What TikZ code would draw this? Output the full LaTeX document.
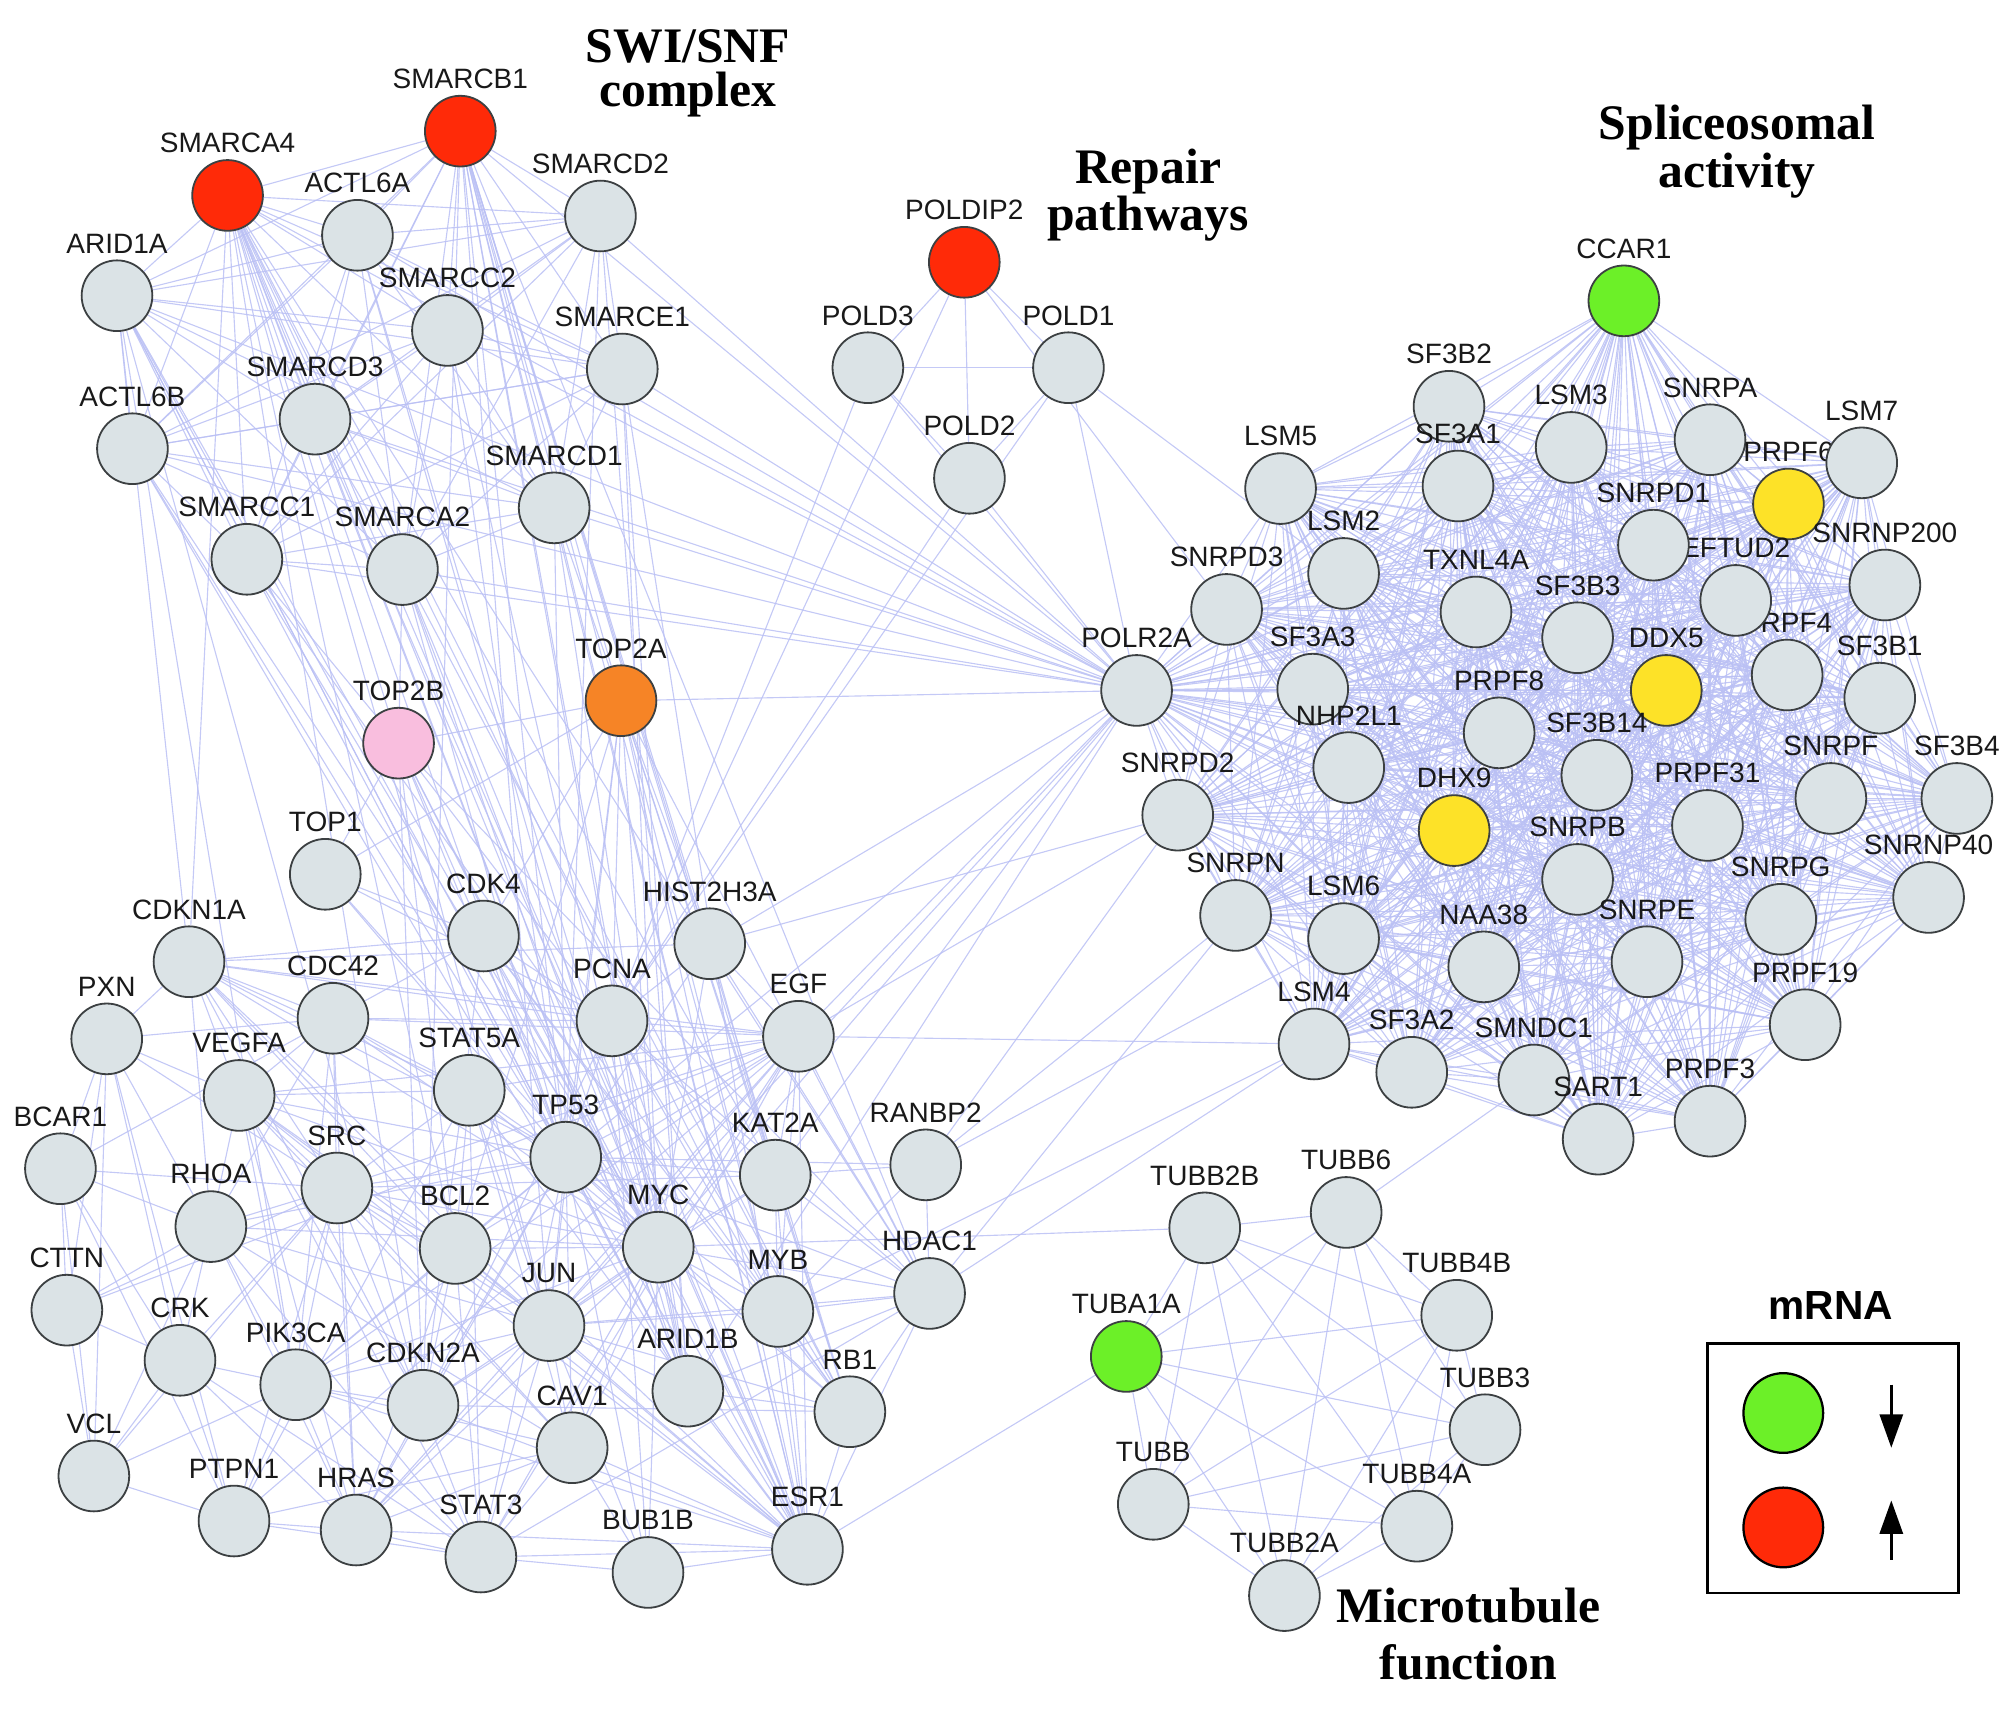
\documentclass[tikz,border=0pt]{standalone}
\usepackage{fontspec}
\setmainfont{Liberation Sans}
\newfontfamily\titleserif{Liberation Serif}
\usetikzlibrary{backgrounds,arrows.meta}

\definecolor{genegray}{RGB}{219,227,230}
\definecolor{ringgray}{RGB}{60,64,66}
\definecolor{upred}{RGB}{255,42,8}
\definecolor{downgreen}{RGB}{108,240,40}
\definecolor{yellowhit}{RGB}{253,226,40}
\definecolor{orangehit}{RGB}{246,132,38}
\definecolor{pinkhit}{RGB}{249,190,222}
\definecolor{edgeblue}{RGB}{186,192,244}
\definecolor{labelblack}{RGB}{25,25,25}

\newcommand\genefont{\fontsize{12.4}{14}\selectfont}
% gene groups
\newcommand\swisnfgenes{SMARCB1,SMARCA4,ACTL6A,SMARCD2,ARID1A,SMARCC2,SMARCE1,SMARCD3,ACTL6B,SMARCD1,SMARCC1,SMARCA2,ARID1B}
\newcommand\poldgenes{POLDIP2,POLD1,POLD2,POLD3,PCNA}
\newcommand\splicegenes{CCAR1,SF3B2,SF3A1,LSM3,SNRPA,PRPF6,LSM7,LSM5,PRPF4,EFTUD2,SNRPD1,SNRNP200,LSM2,TXNL4A,SNRPD3,SF3B3,SF3B1,DDX5,SF3A3,NHP2L1,PRPF8,SF3B14,SNRPF,SF3B4,SNRPD2,DHX9,PRPF31,SNRPB,SNRPN,LSM6,SNRPG,SNRNP40,NAA38,SNRPE,PRPF19,LSM4,SF3A2,SMNDC1,SART1,PRPF3}
\newcommand\tubgenes{TUBB2B,TUBB6,TUBB4B,TUBA1A,TUBB3,TUBB,TUBB4A,TUBB2A}

\begin{document}
\begin{tikzpicture}[x=0.02cm, y=-0.02cm,
    lbl/.style={font=\genefont, text=labelblack, inner sep=2.5pt},
    gene/.style={circle, draw=ringgray, line width=0.8pt, fill=genegray, minimum size=1.1cm, inner sep=0pt, label={[lbl]above:#1}},
    ppi/.style={draw=edgeblue, line width=0.5pt, draw opacity=0.85},
    legdot/.style={circle, draw=black, line width=1pt, minimum size=1.24cm, inner sep=0pt},
    legarrow/.style={line width=1.2pt, -{Triangle[length=0.52cm, width=0.36cm]}},
    ]
    \useasboundingbox (0,0) rectangle (1568,1332);

    % SWI/SNF complex
    \node[gene=SMARCB1, fill=upred] (SMARCB1) at (358,102) {};
    \node[gene=SMARCA4, fill=upred] (SMARCA4) at (177,152) {};
    \node[gene=ACTL6A] (ACTL6A) at (278,183) {};
    \node[gene=SMARCD2] (SMARCD2) at (467,168) {};
    \node[gene=ARID1A] (ARID1A) at (91,230) {};
    \node[gene=SMARCC2] (SMARCC2) at (348,257) {};
    \node[gene=SMARCE1] (SMARCE1) at (484,287) {};
    \node[gene=SMARCD3] (SMARCD3) at (245,326) {};
    \node[gene=ACTL6B] (ACTL6B) at (103,349) {};
    \node[gene=SMARCD1] (SMARCD1) at (431,395) {};
    \node[gene=SMARCC1] (SMARCC1) at (192,435) {};
    \node[gene=SMARCA2] (SMARCA2) at (313,443) {};
    \node[gene=TOP2B, fill=pinkhit] (TOP2B) at (310,578) {};
    \node[gene=TOP2A, fill=orangehit] (TOP2A) at (483,545) {};

    % repair pathways
    \node[gene=POLDIP2, fill=upred] (POLDIP2) at (750,204) {};
    \node[gene=POLD3] (POLD3) at (675,286) {};
    \node[gene=POLD1] (POLD1) at (831,286) {};
    \node[gene=POLD2] (POLD2) at (754,372) {};

    % spliceosomal activity
    \node[gene=CCAR1, fill=downgreen] (CCAR1) at (1263,234) {};
    \node[gene=SF3B2] (SF3B2) at (1127,316) {};
    \node[gene=SF3A1] (SF3A1) at (1134,378) {};
    \node[gene=LSM3] (LSM3) at (1222,348) {};
    \node[gene=SNRPA] (SNRPA) at (1330,342) {};
    \node[gene=PRPF6, fill=yellowhit] (PRPF6) at (1391,392) {};
    \node[gene=LSM7] (LSM7) at (1448,360) {};
    \node[gene=LSM5] (LSM5) at (996,380) {};
    \node[gene=PRPF4] (PRPF4) at (1390,525) {};
    \node[gene=EFTUD2] (EFTUD2) at (1350,467) {};
    \node[gene=SNRPD1] (SNRPD1) at (1286,424) {};
    \node[gene=SNRNP200] (SNRNP200) at (1466,455) {};
    \node[gene=LSM2] (LSM2) at (1045,446) {};
    \node[gene=TXNL4A] (TXNL4A) at (1148,476) {};
    \node[gene=SNRPD3] (SNRPD3) at (954,474) {};
    \node[gene=SF3B3] (SF3B3) at (1227,496) {};
    \node[gene=SF3B1] (SF3B1) at (1462,543) {};
    \node[gene=DDX5, fill=yellowhit] (DDX5) at (1296,537) {};
    \node[gene=SF3A3] (SF3A3) at (1021,536) {};
    \node[gene=NHP2L1] (NHP2L1) at (1049,597) {};
    \node[gene=PRPF8] (PRPF8) at (1166,570) {};
    \node[gene=SF3B14] (SF3B14) at (1242,603) {};
    \node[gene=SNRPF] (SNRPF) at (1424,621) {};
    \node[gene=SF3B4] (SF3B4) at (1522,621) {};
    \node[gene=SNRPD2] (SNRPD2) at (916,634) {};
    \node[gene=DHX9, fill=yellowhit] (DHX9) at (1131,646) {};
    \node[gene=PRPF31] (PRPF31) at (1328,642) {};
    \node[gene=SNRPB] (SNRPB) at (1227,684) {};
    \node[gene=SNRPN] (SNRPN) at (961,712) {};
    \node[gene=LSM6] (LSM6) at (1045,730) {};
    \node[gene=SNRPG] (SNRPG) at (1385,715) {};
    \node[gene=SNRNP40] (SNRNP40) at (1500,698) {};
    \node[gene=NAA38] (NAA38) at (1154,752) {};
    \node[gene=SNRPE] (SNRPE) at (1281,748) {};
    \node[gene=PRPF19] (PRPF19) at (1404,797) {};
    \node[gene=LSM4] (LSM4) at (1022,812) {};
    \node[gene=SF3A2] (SF3A2) at (1098,834) {};
    \node[gene=SMNDC1] (SMNDC1) at (1193,840) {};
    \node[gene=SART1] (SART1) at (1243,886) {};
    \node[gene=PRPF3] (PRPF3) at (1330,872) {};
    \node[gene=POLR2A] (POLR2A) at (884,537) {};

    % signalling / cell cycle genes
    \node[gene=TOP1] (TOP1) at (253,680) {};
    \node[gene=CDK4] (CDK4) at (376,728) {};
    \node[gene=HIST2H3A] (HIST2H3A) at (552,734) {};
    \node[gene=CDKN1A] (CDKN1A) at (147,748) {};
    \node[gene=CDC42] (CDC42) at (259,792) {};
    \node[gene=PCNA] (PCNA) at (476,794) {};
    \node[gene=EGF] (EGF) at (621,806) {};
    \node[gene=PXN] (PXN) at (83,808) {};
    \node[gene=VEGFA] (VEGFA) at (186,852) {};
    \node[gene=STAT5A] (STAT5A) at (365,848) {};
    \node[gene=TP53] (TP53) at (440,900) {};
    \node[gene=KAT2A] (KAT2A) at (603,914) {};
    \node[gene=RANBP2] (RANBP2) at (720,906) {};
    \node[gene=BCAR1] (BCAR1) at (47,909) {};
    \node[gene=SRC] (SRC) at (262,924) {};
    \node[gene=RHOA] (RHOA) at (164,954) {};
    \node[gene=BCL2] (BCL2) at (354,971) {};
    \node[gene=MYC] (MYC) at (512,970) {};
    \node[gene=HDAC1] (HDAC1) at (723,1006) {};
    \node[gene=CTTN] (CTTN) at (52,1019) {};
    \node[gene=CRK] (CRK) at (140,1058) {};
    \node[gene=JUN] (JUN) at (427,1031) {};
    \node[gene=MYB] (MYB) at (605,1020) {};
    \node[gene=PIK3CA] (PIK3CA) at (230,1077) {};
    \node[gene=CDKN2A] (CDKN2A) at (329,1093) {};
    \node[gene=ARID1B] (ARID1B) at (535,1082) {};
    \node[gene=RB1] (RB1) at (661,1098) {};
    \node[gene=VCL] (VCL) at (73,1148) {};
    \node[gene=CAV1] (CAV1) at (445,1126) {};
    \node[gene=PTPN1] (PTPN1) at (182,1183) {};
    \node[gene=HRAS] (HRAS) at (277,1190) {};
    \node[gene=STAT3] (STAT3) at (374,1211) {};
    \node[gene=BUB1B] (BUB1B) at (504,1223) {};
    \node[gene=ESR1] (ESR1) at (628,1205) {};

    % microtubule function
    \node[gene=TUBB2B] (TUBB2B) at (937,955) {};
    \node[gene=TUBB6] (TUBB6) at (1047,943) {};
    \node[gene=TUBB4B] (TUBB4B) at (1133,1023) {};
    \node[gene=TUBA1A, fill=downgreen] (TUBA1A) at (876,1055) {};
    \node[gene=TUBB3] (TUBB3) at (1155,1112) {};
    \node[gene=TUBB] (TUBB) at (897,1170) {};
    \node[gene=TUBB4A] (TUBB4A) at (1102,1187) {};
    \node[gene=TUBB2A] (TUBB2A) at (999,1241) {};

    % group titles
    \node[align=center, font=\titleserif\bfseries\fontsize{22}{19.6}\selectfont] (swititle) at (535,57) {SWI/SNF\\complex};
    \node[align=center, font=\titleserif\bfseries\fontsize{22}{18.9}\selectfont] (repairtitle) at (893,152) {Repair\\pathways};
    \node[align=center, font=\titleserif\bfseries\fontsize{22}{21.4}\selectfont] (splicetitle) at (1351,118) {Spliceosomal\\activity};
    \node[align=center, font=\titleserif\bfseries\fontsize{22}{25}\selectfont] (tubtitle) at (1142,1271) {Microtubule\\function};

    % legend
    \node[font=\bfseries\fontsize{18}{20}\selectfont] (mrna) at (1424,1015) {mRNA};
    \node[draw=black, line width=1.2pt, minimum width=3.9cm, minimum height=3.88cm, inner sep=0pt] (legendbox) at (1425.5,1142) {};
    \node[legdot, fill=downgreen] (legdown) at (1387,1099) {};
    \node[legdot, fill=upred] (legup) at (1387,1188) {};
    \coordinate (dnstart) at (1471,1077);
    \coordinate (dnend) at (1471,1126);
    \coordinate (upstart) at (1471,1213);
    \coordinate (upend) at (1471,1167);
    \draw[legarrow] (dnstart) -- (dnend);
    \draw[legarrow] (upstart) -- (upend);

    \begin{pgfonlayer}{background}
    % dense groups
    \foreach \a [count=\i] in \splicegenes {
        \foreach \b [count=\j] in \splicegenes {
            \ifnum\j>\i \draw[ppi] (\a) -- (\b); \fi
        }
    }
    \foreach \a [count=\i] in \swisnfgenes {
        \foreach \b [count=\j] in \swisnfgenes {
            \ifnum\j>\i \draw[ppi] (\a) -- (\b); \fi
        }
    }
    \foreach \a [count=\i] in \poldgenes {
        \foreach \b [count=\j] in \poldgenes {
            \ifnum\j>\i \draw[ppi] (\a) -- (\b); \fi
        }
    }
    \foreach \a [count=\i] in \tubgenes {
        \foreach \b [count=\j] in \tubgenes {
            \ifnum\j>\i \draw[ppi] (\a) -- (\b); \fi
        }
    }
    \foreach \b in \splicegenes \draw[ppi] (POLR2A) -- (\b);
    \foreach \b in \swisnfgenes \draw[ppi] (POLR2A) -- (\b);
    \foreach \b in {POLD1,POLD2,POLD3,TP53,MYC,HIST2H3A,TOP2A,KAT2A,EGF,JUN}
        \draw[ppi] (POLR2A) -- (\b);

    % signalling group
    \foreach \a/\b in {PXN/CDC42, PXN/BCAR1, PXN/VCL, PXN/SRC, PXN/CRK, PXN/VEGFA, PXN/RHOA, PXN/CTTN, PXN/PTPN1, PXN/CDKN1A,
        CDKN1A/CDC42, CDKN1A/TP53, CDKN1A/CDK4, CDKN1A/PCNA, CDKN1A/MYC, CDKN1A/VEGFA, CDKN1A/SRC, CDKN1A/STAT5A, CDKN1A/EGF,
        CDKN1A/CDKN2A, CDKN1A/JUN, CDKN1A/BCL2, CDKN1A/RHOA, CDKN1A/HIST2H3A,
        BCAR1/CRK, BCAR1/SRC, BCAR1/CTTN, BCAR1/VCL, BCAR1/RHOA, BCAR1/PTPN1, BCAR1/CDC42,
        CTTN/SRC, CTTN/VCL, CTTN/CRK, CTTN/RHOA, CTTN/EGF,
        VCL/SRC, VCL/CRK, VCL/RHOA, VCL/PTPN1, VCL/PIK3CA,
        CRK/SRC, CRK/RHOA, CRK/PTPN1, CRK/HRAS, CRK/PIK3CA, CRK/STAT3,
        RHOA/CDC42, RHOA/SRC, RHOA/VEGFA, RHOA/PIK3CA, RHOA/HRAS, RHOA/MYC, RHOA/TP53, RHOA/JUN, RHOA/CAV1, RHOA/STAT3,
        SRC/CDC42, SRC/VEGFA, SRC/STAT5A, SRC/STAT3, SRC/PIK3CA, SRC/HRAS, SRC/CAV1, SRC/PTPN1, SRC/EGF, SRC/ESR1,
        SRC/TP53, SRC/JUN, SRC/MYC, SRC/BCL2, SRC/KAT2A,
        VEGFA/CDC42, VEGFA/PIK3CA, VEGFA/HRAS, VEGFA/STAT3, VEGFA/JUN, VEGFA/TP53, VEGFA/EGF, VEGFA/ESR1, VEGFA/MYC,
        VEGFA/BCL2, VEGFA/CAV1, VEGFA/STAT5A, VEGFA/CDKN2A,
        CDC42/STAT5A, CDC42/EGF, CDC42/PIK3CA, CDC42/HRAS, CDC42/CDK4, CDC42/TP53, CDC42/MYC, CDC42/PCNA,
        PIK3CA/HRAS, PIK3CA/PTPN1, PIK3CA/STAT3, PIK3CA/CDKN2A, PIK3CA/JUN, PIK3CA/TP53, PIK3CA/MYC, PIK3CA/EGF,
        PIK3CA/ESR1, PIK3CA/BCL2, PIK3CA/CAV1,
        PTPN1/HRAS, PTPN1/STAT3, PTPN1/EGF, PTPN1/CAV1, PTPN1/STAT5A,
        HRAS/STAT3, HRAS/CAV1, HRAS/CDKN2A, HRAS/JUN, HRAS/TP53, HRAS/MYC, HRAS/EGF, HRAS/ESR1, HRAS/BCL2,
        STAT3/CAV1, STAT3/BUB1B, STAT3/ESR1, STAT3/JUN, STAT3/MYC, STAT3/TP53, STAT3/EGF, STAT3/BCL2, STAT3/STAT5A, STAT3/HDAC1,
        CDKN2A/TP53, CDKN2A/MYC, CDKN2A/RB1, CDKN2A/CDK4, CDKN2A/JUN, CDKN2A/BCL2, CDKN2A/ESR1, CDKN2A/PCNA,
        CAV1/ESR1, CAV1/JUN, CAV1/MYC, CAV1/TP53, CAV1/EGF, CAV1/BUB1B, CAV1/STAT5A,
        BUB1B/ESR1, BUB1B/TP53, BUB1B/MYC, BUB1B/JUN, BUB1B/PCNA,
        ESR1/RB1, ESR1/MYB, ESR1/MYC, ESR1/JUN, ESR1/TP53, ESR1/BCL2, ESR1/HDAC1, ESR1/KAT2A, ESR1/EGF, ESR1/PCNA,
        ESR1/STAT5A, ESR1/CDKN1A,
        RB1/MYB, RB1/MYC, RB1/TP53, RB1/HDAC1, RB1/CDK4, RB1/JUN, RB1/PCNA, RB1/KAT2A,
        ARID1B/MYC, ARID1B/TP53, ARID1B/HDAC1, ARID1B/JUN, ARID1B/ESR1, ARID1B/RB1,
        MYB/MYC, MYB/JUN, MYB/HDAC1, MYB/KAT2A, MYB/EGF, MYB/PCNA, MYB/TP53, MYB/CDK4, MYB/RANBP2,
        HDAC1/MYC, HDAC1/TP53, HDAC1/KAT2A, HDAC1/HIST2H3A, HDAC1/PCNA, HDAC1/JUN, HDAC1/RANBP2, HDAC1/EGF,
        RANBP2/TP53, RANBP2/KAT2A,
        KAT2A/MYC, KAT2A/TP53, KAT2A/HIST2H3A, KAT2A/PCNA, KAT2A/EGF, KAT2A/JUN,
        MYC/TP53, MYC/JUN, MYC/BCL2, MYC/EGF, MYC/PCNA, MYC/CDK4, MYC/HIST2H3A, MYC/STAT5A,
        JUN/TP53, JUN/BCL2, JUN/EGF, JUN/STAT5A, BCL2/TP53, BCL2/STAT5A, BCL2/EGF,
        TP53/STAT5A, TP53/PCNA, TP53/CDK4, TP53/EGF, TP53/HIST2H3A, STAT5A/EGF,
        PCNA/CDK4, PCNA/HIST2H3A, PCNA/EGF, EGF/HIST2H3A,
        TOP1/TP53, TOP1/MYC, TOP1/PCNA, TOP1/CDK4}
        \draw[ppi] (\a) -- (\b);

    % links between groups
    \foreach \a/\b in {TOP2A/TOP2B, TOP2A/TOP1, TOP2A/TP53, TOP2A/MYC, TOP2A/JUN, TOP2A/PCNA, TOP2A/HDAC1, TOP2A/KAT2A,
        TOP2A/RB1, TOP2A/ESR1, TOP2A/BCL2, TOP2A/MYB, TOP2A/CDK4, TOP2A/HIST2H3A,
        TOP2B/TOP1, TOP2B/TP53, TOP2B/MYC, TOP2B/JUN, TOP2B/PCNA, TOP2B/HDAC1, TOP2B/ESR1, TOP2B/CDK4, TOP2B/BCL2, TOP2B/CDKN2A,
        SMARCA4/TOP2B, SMARCA4/TP53, SMARCA4/MYC, SMARCA4/RB1, SMARCA4/CDKN2A, SMARCA4/JUN, SMARCA4/ESR1, SMARCA4/HDAC1,
        SMARCA4/MYB, SMARCA4/CDKN1A, SMARCA4/BCL2, SMARCA4/KAT2A,
        SMARCB1/TOP2A, SMARCB1/TP53, SMARCB1/MYC, SMARCB1/RB1, SMARCB1/CDKN2A, SMARCB1/JUN, SMARCB1/ESR1, SMARCB1/HDAC1,
        SMARCB1/KAT2A, SMARCB1/MYB, SMARCB1/HIST2H3A,
        ARID1A/TP53, ARID1A/MYC, ARID1A/CDKN1A, ARID1A/ESR1, ARID1A/CDKN2A, ARID1A/PIK3CA,
        ACTL6B/MYC, ACTL6B/TP53, SMARCC1/MYC, SMARCC1/RB1, SMARCC1/TOP2B, SMARCA2/TP53, SMARCA2/RB1, SMARCA2/ESR1,
        SMARCA2/TOP2B, SMARCA2/MYC, SMARCD1/ESR1, SMARCD1/TP53, SMARCD1/TOP2A, SMARCE1/ESR1, SMARCE1/MYC,
        ACTL6A/MYC, SMARCC2/TP53, SMARCD3/ESR1, SMARCD2/TP53,
        POLD1/LSM2, POLDIP2/SNRPD3,
        RANBP2/SNRPD2, RANBP2/SNRPN, RANBP2/LSM6, HDAC1/SNRPN, HDAC1/LSM4, EGF/LSM4, EGF/SNRPD2, HIST2H3A/SNRPD2,
        MYB/LSM4, ESR1/TUBA1A, MYC/TUBB2B, TUBB6/SMNDC1}
        \draw[ppi] (\a) -- (\b);
    \end{pgfonlayer}
\end{tikzpicture}
\end{document}
